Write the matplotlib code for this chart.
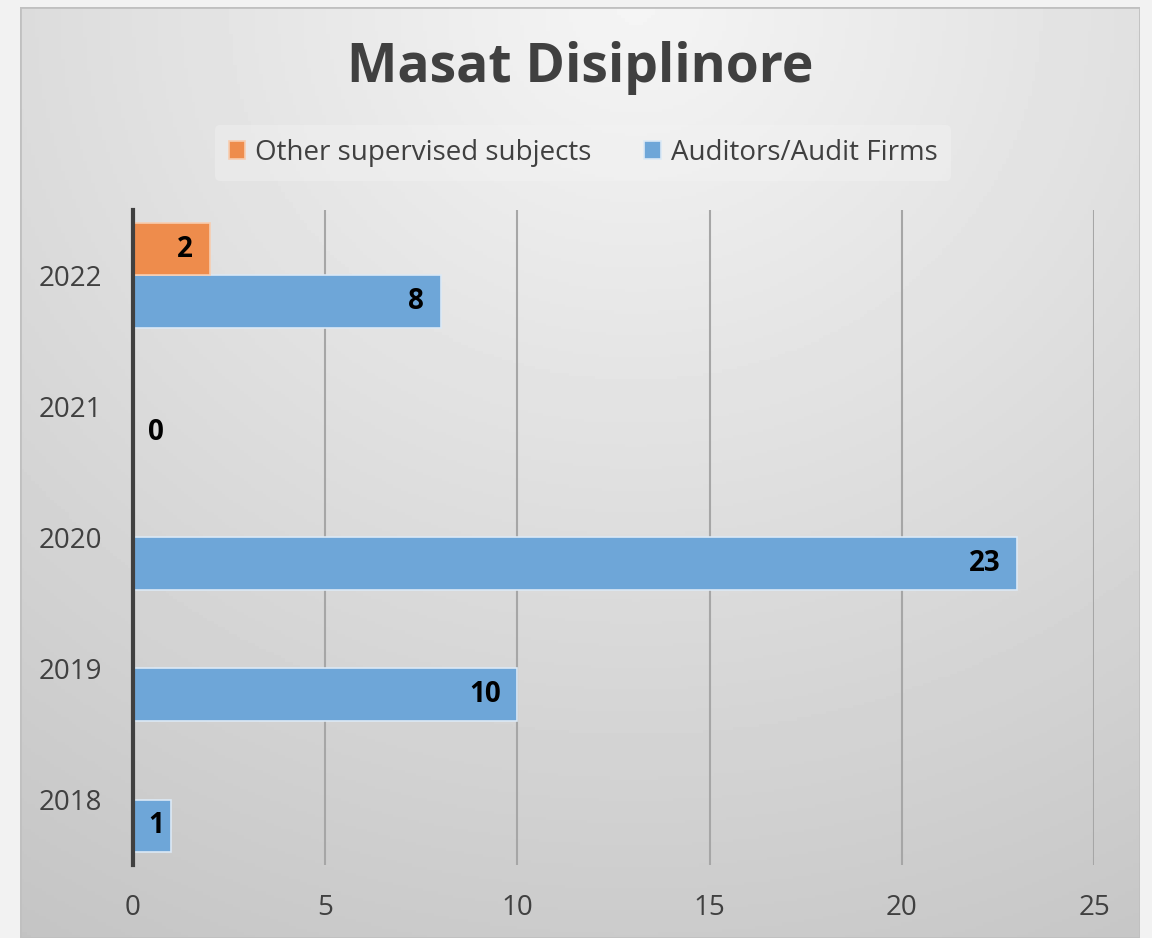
import numpy as np
import matplotlib.pyplot as plt

years = ["2018", "2019", "2020", "2021", "2022"]
auditors = [1, 10, 23, 0, 8]
other = [np.nan, np.nan, np.nan, np.nan, 2]
x_ticks = [0, 5, 10, 15, 20, 25]

W, H = 1152, 938
plt.rcParams["font.family"] = ["Open Sans", "DejaVu Sans"]
fig = plt.figure(figsize=(W / 100, H / 100), dpi=100)
fig.patch.set_facecolor("#f2f2f2")

# gradient panel behind the chart
bg = fig.add_axes([20 / W, 0, 1120 / W, 1 - 7 / H])
yy, xx = np.mgrid[0:1:300j, 0:1:300j]
r = np.sqrt(((xx - 0.55) / 1.0) ** 2 + ((yy - 0.0) / 1.1) ** 2)
bg.imshow(0.96 - 0.18 * np.clip(r, 0, 1.2), cmap="gray", vmin=0, vmax=1,
          extent=[0, 1, 0, 1], aspect="auto", origin="upper")
bg.set_axis_off()
bg.add_patch(plt.Rectangle((0, 0), 1, 1, fill=False, ec="#c0c0c0", lw=2,
                           transform=bg.transAxes))

ax = fig.add_axes([133 / W, 1 - 865 / H, (1094 - 133) / W, (865 - 210) / H])
ax.patch.set_alpha(0)
pos = np.arange(len(years))
h = 0.4
b1 = ax.barh(pos - h / 2, auditors, height=h, color="#6EA6D8", edgecolor="#dce9f5",
             linewidth=1.2, label="Auditors/Audit Firms", zorder=3)
b2 = ax.barh(pos + h / 2, other, height=h, color="#EE8C4C", edgecolor="#f7cdb0",
             linewidth=1.2, label="Other supervised subjects", zorder=3)


def put_label(v, cy):
    kw = dict(textcoords="offset points", va="center", fontsize=20,
              fontweight="bold", color="black", zorder=4)
    if v == 0:
        ax.annotate(str(v), (v, cy), xytext=(11, 0), ha="left", **kw)
    elif v < 1.5:
        ax.annotate(str(v), (v / 2, cy), xytext=(3, 0), ha="center", **kw)
    else:
        ax.annotate(str(v), (v, cy), xytext=(-12, 0), ha="right", **kw)


for rect, v in zip(b1, auditors):
    put_label(v, rect.get_y() + rect.get_height() / 2)
for rect, v in zip(b2, other):
    if not np.isnan(v):
        put_label(v, rect.get_y() + rect.get_height() / 2)

ax.set_xlim(0, 25)
ax.set_ylim(-0.5, 4.5)
ax.set_yticks(pos)
ax.set_yticklabels(years)
ax.set_xticks(x_ticks)
ax.tick_params(length=0, labelsize=20, colors="#404040")
ax.tick_params(axis="y", pad=22)
ax.tick_params(axis="x", pad=21)
ax.grid(axis="x", color="#a6a6a6", linewidth=1.5, zorder=0)
for s in ["top", "right", "bottom"]:
    ax.spines[s].set_visible(False)
ax.spines["left"].set_color("#404040")
ax.spines["left"].set_linewidth(3)
ax.spines["left"].set_zorder(5)

handles = [b2, b1]
leg = fig.legend(handles, [b.get_label() for b in handles], loc="center",
                 bbox_to_anchor=(583 / W, 1 - 153 / H), ncol=2, frameon=True,
                 fontsize=20, handlelength=0.6, handleheight=0.6, handletextpad=0.35,
                 columnspacing=1.9, borderpad=0.5)
leg.get_frame().set_facecolor("#f4f4f4")
leg.get_frame().set_edgecolor("none")
leg.get_frame().set_alpha(0.4)
for t in leg.get_texts():
    t.set_color("#404040")

fig.text(580 / W, 1 - 68 / H, "Masat Disiplinore", ha="center", va="center",
         fontsize=38.5, fontweight="bold", color="#404040")

fig.savefig("out.png", dpi=100, facecolor=fig.get_facecolor())
